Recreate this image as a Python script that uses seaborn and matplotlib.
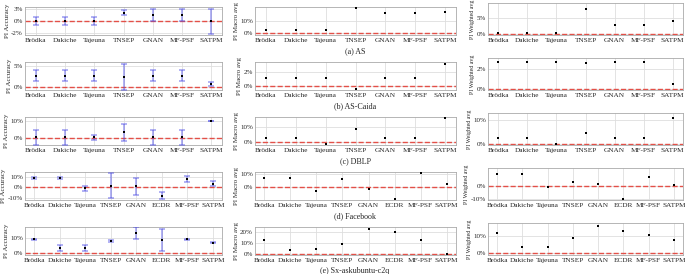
import matplotlib
matplotlib.use("Agg")
import matplotlib.pyplot as plt
import pandas as pd
import seaborn as sns

methods7 = ["Brödka", "Dakiche", "Tajeuna", "TNSEP", "GNAN", "MF-PSF", "SATPM"]
methods8 = ["Brödka", "Dakiche", "Tajeuna", "TNSEP", "GNAN", "ECDR", "MF-PSF", "SATPM"]
captions = ["(a) AS", "(b) AS-Caida", "(c) DBLP", "(d) Facebook", "(e) Sx-askubuntu-c2q"]

# values in percent
as_acc = [0.05, 0.05, 0.05, 1.8, 1.3, 1.3, 0.0]
as_acc_err = [0.9, 0.9, 0.9, 0.5, 1.25, 1.25, 2.6]
as_macro = [3.0, 3.0, 3.0, 19.5, 16.0, 16.0, 16.5]
as_weighted = [0.3, 0.3, 0.3, 7.6, 2.9, 2.9, 4.0]

caida_acc = [2.75, 2.75, 2.75, 2.4, 2.75, 2.75, 0.65]
caida_acc_err = [1.35, 1.35, 1.35, 3.1, 1.35, 1.35, 0.4]
caida_macro = [1.16, 1.16, 1.16, -0.42, 1.16, 1.16, 3.2]
caida_weighted = [2.65, 2.65, 2.65, 2.55, 2.65, 2.65, 0.44]

dblp_acc = [0.35, 0.35, 0.35, 3.4, 0.35, 0.35, 9.6]
dblp_acc_err = [4.2, 4.2, 1.3, 4.8, 4.2, 4.2, 0.0]
dblp_macro = [2.9, 2.9, -1.3, 8.9, 2.9, 2.9, 16.0]
dblp_weighted = [2.4, 2.4, -0.2, 4.3, 2.4, 2.4, 10.5]

fb_acc = [9.0, 9.0, -1.0, 1.5, 0.8, -8.0, 8.0, 3.3]
fb_acc_err = [0.5, 0.5, 2.6, 12.0, 8.0, 3.2, 2.7, 2.4]
fb_macro = [7.0, 7.0, -2.5, 6.3, -1.5, -8.8, 10.8, 2.5]
fb_weighted = [8.5, 8.5, -1.0, 3.0, 1.0, -10.0, 6.6, 0.25]

sx_acc = [9.0, 3.5, 3.5, 8.0, 13.0, 8.5, 9.0, 7.0]
sx_acc_err = [0.5, 2.0, 2.0, 0.5, 4.0, 7.0, 0.5, 0.5]
sx_macro = [13.0, 4.0, 5.0, 9.0, 23.0, 20.0, 13.0, 0.0]
sx_weighted = [12.0, 4.0, 4.0, 9.0, 16.0, 13.0, 11.0, 8.0]

ylabels = ["PI Accuracy", "PI Macro avg", "PI Weighted avg"]

# per row: (methods, [(values, err, ylim, ticks, ticklabels) for 3 columns])
rows = [
    (methods7, [
        (as_acc, as_acc_err, (-2.9, 3.0), [-2.5, 0, 2.5], ["-2%", "0%", "3%"]),
        (as_macro, None, (-1.2, 20.5), [0, 10], ["0%", "10%"]),
        (as_weighted, None, (-0.3, 9.5), [0, 5], ["0%", "5%"]),
    ]),
    (methods7, [
        (caida_acc, caida_acc_err, (-0.8, 6.1), [0, 5], ["0%", "5%"]),
        (caida_macro, None, (-0.5, 3.5), [0, 2], ["0%", "2%"]),
        (caida_weighted, None, (-0.12, 3.1), [0, 2], ["0%", "2%"]),
    ]),
    (methods7, [
        (dblp_acc, dblp_acc_err, (-4.0, 12.2), [0, 10], ["0%", "10%"]),
        (dblp_macro, None, (-1.8, 16.8), [0, 10], ["0%", "10%"]),
        (dblp_weighted, None, (-0.6, 12.8), [0, 10], ["0%", "10%"]),
    ]),
    (methods8, [
        (fb_acc, fb_acc_err, (-12.3, 14.8), [-10, 0, 10], ["-10%", "0%", "10%"]),
        (fb_macro, None, (-9.5, 11.5), [0, 10], ["0%", "10%"]),
        (fb_weighted, None, (-10.7, 13.0), [-10, 0], ["-10%", "0%"]),
    ]),
    (methods8, [
        (sx_acc, sx_acc_err, (-1.0, 17.0), [0, 10], ["0%", "10%"]),
        (sx_macro, None, (-1.0, 25.0), [0, 10, 20], ["0%", "10%", "20%"]),
        (sx_weighted, None, (-1.0, 18.0), [0, 10], ["0%", "10%"]),
    ]),
]

sns.set_theme(style="whitegrid")
plt.rcParams["font.family"] = ["Liberation Serif", "DejaVu Serif"]

W, H = 685, 274
fig = plt.figure(figsize=(W / 100, H / 100), dpi=100)


def add_axes(x0, y0, x1, y1):
    return fig.add_axes([x0 / W, 1 - y1 / H, (x1 - x0) / W, (y1 - y0) / H])


def draw_panel(ax, cats, values, err, ylim, ticks, ticklabels, ylabel, label_size):
    df = pd.DataFrame({"method": cats, "value": values})
    sns.scatterplot(data=df, x="method", y="value", ax=ax, color="black",
                    marker="s", s=4, linewidth=0, zorder=4)
    if err is not None:
        ax.errorbar(cats, values, yerr=err, fmt="none", ecolor=(0.3, 0.3, 0.9, 0.55),
                    elinewidth=1.1, capsize=2, capthick=1.1, zorder=3)
    ax.axhline(0, color="#e35048", ls="--", lw=1.0, zorder=2)
    ax.set_xlim(-0.36, len(cats) - 0.64)
    ax.set_ylim(*ylim)
    ax.set_yticks(ticks)
    ax.set_yticklabels(ticklabels)
    ax.set_xlabel("")
    ax.set_ylabel(ylabel, fontsize=label_size, labelpad=1)
    ax.tick_params(axis="x", labelsize=5.2, pad=2.5, length=0)
    ax.tick_params(axis="y", labelsize=5, pad=1.5, length=0)
    ax.grid(True, color="#dedede", lw=0.6)
    for spine in ax.spines.values():
        spine.set_color("#aaaaaa")
        spine.set_linewidth(0.6)


col_x = [(25, 222), (255, 456), (488, 683)]
for i, (cats, panels) in enumerate(rows):
    for j, (values, err, ylim, ticks, ticklabels) in enumerate(panels):
        x0, x1 = col_x[j]
        top = (3 if j == 2 else 7) + 55 * i
        ax = add_axes(x0, top, x1, 35 + 55 * i)
        draw_panel(ax, cats, values, err, ylim, ticks, ticklabels, ylabels[j],
                   4.2 if j == 2 else 5)
    fig.text(355 / W, 1 - (51 + 55 * i) / H, captions[i], ha="center", va="center", fontsize=5.8)

fig.savefig("out.png", dpi=100)
